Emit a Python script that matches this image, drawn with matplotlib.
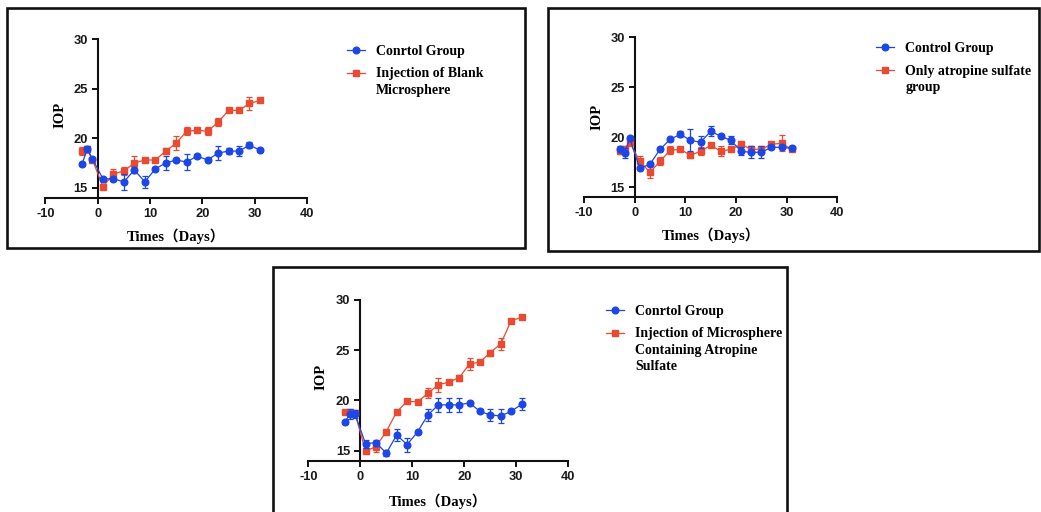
import matplotlib
matplotlib.use("Agg")
import matplotlib.pyplot as plt
from matplotlib.patches import Rectangle

plt.rcParams["axes.unicode_minus"] = False

# ---------------- data ----------------
days = [-3, -2, -1, 1, 3, 5, 7, 9, 11, 13, 15, 17, 19, 21, 23, 25, 27, 29, 31]

p1_ctrl = [17.4, 18.9, 17.9, 15.9, 15.9, 15.6, 16.8, 15.6, 16.9, 17.5, 17.8, 17.6, 18.2, 17.8, 18.5, 18.7, 18.7, 19.3, 18.8]
p1_ctrl_err = [0.2, 0.3, 0.2, 0.2, 0.2, 0.8, 0.3, 0.6, 0.2, 0.7, 0.2, 0.8, 0.2, 0.2, 0.7, 0.3, 0.5, 0.3, 0.2]
p1_blank = [18.7, 18.9, 17.8, 15.1, 16.4, 16.7, 17.5, 17.8, 17.8, 18.7, 19.5, 20.7, 20.8, 20.7, 21.6, 22.8, 22.8, 23.5, 23.8]
p1_blank_err = [0.4, 0.2, 0.2, 0.2, 0.5, 0.4, 0.7, 0.2, 0.2, 0.3, 0.7, 0.4, 0.2, 0.4, 0.4, 0.2, 0.2, 0.7, 0.2]

p2_ctrl = [18.8, 18.4, 19.9, 16.9, 17.3, 18.8, 19.8, 20.3, 19.7, 19.5, 20.6, 20.1, 19.7, 18.6, 18.5, 18.5, 19.0, 19.0, 18.9]
p2_ctrl_err = [0.3, 0.5, 0.2, 0.2, 0.2, 0.2, 0.2, 0.3, 1.1, 0.6, 0.5, 0.2, 0.4, 0.4, 0.6, 0.6, 0.2, 0.2, 0.2]
p2_atro = [18.6, 18.8, 19.5, 17.6, 16.5, 17.6, 18.7, 18.8, 18.2, 18.6, 19.2, 18.6, 18.8, 19.3, 18.8, 18.8, 19.3, 19.4, 18.8]
p2_atro_err = [0.3, 0.3, 0.4, 0.5, 0.6, 0.4, 0.4, 0.2, 0.3, 0.4, 0.2, 0.5, 0.2, 0.2, 0.3, 0.2, 0.2, 0.8, 0.2]

p3_ctrl = [17.85, 18.6, 18.6, 15.7, 15.8, 14.75, 16.55, 15.6, 16.85, 18.55, 19.55, 19.55, 19.55, 19.75, 18.9, 18.55, 18.45, 18.9, 19.6]
p3_ctrl_err = [0.2, 0.5, 0.4, 0.4, 0.3, 0.3, 0.6, 0.7, 0.2, 0.6, 0.7, 0.7, 0.7, 0.2, 0.2, 0.6, 0.7, 0.2, 0.6]
p3_micro = [18.8, 18.8, 18.7, 14.95, 15.4, 16.9, 18.85, 19.9, 19.85, 20.7, 21.55, 21.8, 22.25, 23.6, 23.8, 24.75, 25.6, 27.9, 28.25]
p3_micro_err = [0.2, 0.2, 0.2, 0.2, 0.5, 0.2, 0.2, 0.2, 0.2, 0.5, 0.7, 0.2, 0.3, 0.6, 0.2, 0.3, 0.6, 0.2, 0.2]

x_ticks = [-10, 0, 10, 20, 30, 40]
y_ticks = [15, 20, 25, 30]

labels1 = ["Conrtol Group", "Injection of Blank\nMicrosphere"]
labels2 = ["Control Group", "Only atropine sulfate\ngroup"]
labels3 = ["Conrtol Group", "Injection of Microsphere\nContaining Atropine\nSulfate"]

BLUE = "#1c47e6"
RED = "#ea4a2f"

W, H = 1041, 512
fig = plt.figure(figsize=(W / 100, H / 100), dpi=100)

SERIF = ["Liberation Serif", "DejaVu Serif"]
SERIF_CJK = ["Liberation Serif", "Noto Sans CJK SC", "DejaVu Sans"]
SANS = ["Liberation Sans", "DejaVu Sans"]


def px_axes(left, right, top, bottom):
    return fig.add_axes([left / W, 1 - bottom / H, (right - left) / W, (bottom - top) / H])


def frame(x0, y0, x1, y1):
    fig.add_artist(Rectangle((x0 / W, 1 - y1 / H), (x1 - x0) / W, (y1 - y0) / H,
                             transform=fig.transFigure, fill=False,
                             edgecolor="#111111", linewidth=1.9))


def panel(ax, ctrl, ctrl_err, trt, trt_err, labels, leg_xy, ylab_x, ylab_y, xlab_y):
    ax.set_xlim(-10, 40)
    ax.set_ylim(14, 30)
    for s in ("top", "right"):
        ax.spines[s].set_visible(False)
    ax.spines["left"].set_position(("data", 0))
    ax.spines["left"].set_bounds(14, 30)
    for s in ("left", "bottom"):
        ax.spines[s].set_linewidth(1.5)
        ax.spines[s].set_color("#111111")
    ax.set_xticks(x_ticks)
    ax.set_yticks(y_ticks)
    ax.tick_params(width=1.4, length=4.5, color="#111111", pad=2.8)
    for lab in ax.get_xticklabels() + ax.get_yticklabels():
        lab.set_family(SANS)
        lab.set_fontweight("bold")
        lab.set_fontsize(9.3)
        lab.set_color("#1a1a1a")
    ax.patch.set_alpha(0)

    t = ax.errorbar(days, trt, yerr=trt_err, color=RED, marker="s", markersize=4.6,
                    linewidth=0.9, elinewidth=0.9, capsize=2.4, capthick=0.9, zorder=3,
                    clip_on=False)
    c = ax.errorbar(days, ctrl, yerr=ctrl_err, color=BLUE, marker="o", markersize=4.8,
                    linewidth=0.9, elinewidth=0.9, capsize=2.4, capthick=0.9, zorder=4,
                    clip_on=False)

    ax.set_ylabel("IOP", family=SERIF, fontweight="bold", fontsize=10.5)
    ax.yaxis.set_label_coords(ylab_x, ylab_y)
    ax.set_xlabel("Times（Days）", family=SERIF_CJK, fontweight="bold", fontsize=10.5)
    ax.xaxis.set_label_coords(0.5, xlab_y)
    ax.xaxis.label.set_verticalalignment("center")

    leg = ax.legend([c.lines[0], t.lines[0]], labels, loc="upper left",
                    bbox_to_anchor=(leg_xy[0] / W, 1 - leg_xy[1] / H),
                    bbox_transform=fig.transFigure, frameon=False, borderpad=0,
                    borderaxespad=0, handlelength=1.3, handletextpad=0.8,
                    labelspacing=0.7, handleheight=1.0,
                    prop={"family": SERIF, "weight": "bold", "size": 10})
    for col in leg._legend_handle_box.get_children():
        for row in col.get_children():
            row.align = "top"
    for tx in leg.get_texts():
        tx.set_linespacing(1.35)
    return ax


# frames
frame(7, 8, 525, 248)
frame(547.5, 7.5, 1039, 251)
frame(272.5, 267, 786.5, 530)

ax1 = px_axes(45.4, 307, 39, 197.7)
panel(ax1, p1_ctrl, p1_ctrl_err, p1_blank, p1_blank_err, labels1,
      (346.7, 44.5), 0.079, 0.52, -0.241)

ax2 = px_axes(584.1, 837.3, 37.3, 197.3)
panel(ax2, p2_ctrl, p2_ctrl_err, p2_atro, p2_atro_err, labels2,
      (876, 42), 0.076, 0.504, -0.236)

ax3 = px_axes(308.3, 568.3, 299.7, 460.7)
panel(ax3, p3_ctrl, p3_ctrl_err, p3_micro, p3_micro_err, labels3,
      (606, 304.5), 0.073, 0.52, -0.25)

fig.savefig("out.png", dpi=100)
